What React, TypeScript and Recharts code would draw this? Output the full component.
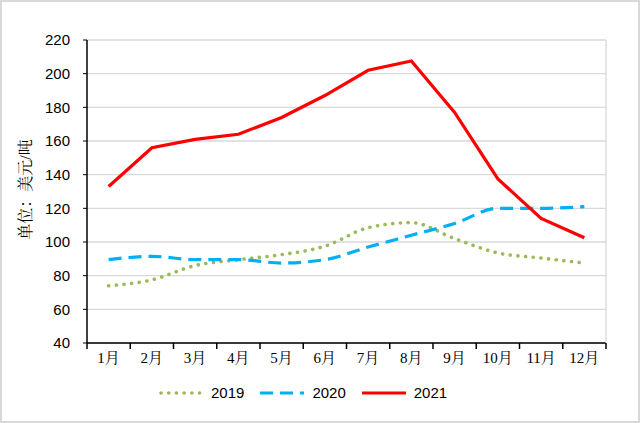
import React from 'react';
import { LineChart, Line, XAxis, YAxis, CartesianGrid, Legend } from 'recharts';

const months = ['1月', '2月', '3月', '4月', '5月', '6月', '7月', '8月', '9月', '10月', '11月', '12月'];
const s2019 = [74, 77.5, 86, 89.5, 92.5, 97.5, 108.5, 111.5, 102, 93.5, 90.5, 87.5];
const s2020 = [89.5, 91.5, 89.5, 89.5, 87.5, 89.5, 97, 104, 111, 120, 120, 121];
const s2021 = [133, 156, 161, 164, 174, 187, 202, 207.5, 177, 137.5, 114, 102.5];
const yTicks = [40, 60, 80, 100, 120, 140, 160, 180, 200, 220];

const data = months.map((m, i) => ({ month: m, y2019: s2019[i], y2020: s2020[i], y2021: s2021[i] }));

const series = [
  { key: 'y2019', name: '2019', color: '#9BBB59', dash: '0.1 7.6', cap: 'round' as const, width: 3.6, type: 'monotone' as const },
  { key: 'y2020', name: '2020', color: '#00B0F0', dash: '13 7', cap: 'butt' as const, width: 3.2, type: 'monotone' as const },
  { key: 'y2021', name: '2021', color: '#FF0000', dash: undefined, cap: 'butt' as const, width: 3.2, type: 'linear' as const },
];

const TICK_SIZE = 6;
const TICK_MARGIN = 3;

const XTick = (props: any) => {
  const { x, y, payload, index } = props;
  const half = payload && payload.offset ? payload.offset : 0;
  const axisY = y - TICK_SIZE - TICK_MARGIN;
  return (
    <g>
      <line x1={x - half} x2={x - half} y1={axisY} y2={axisY + TICK_SIZE} stroke="#000" strokeWidth={1.5} />
      {index === months.length - 1 && (
        <line x1={x + half} x2={x + half} y1={axisY} y2={axisY + TICK_SIZE} stroke="#000" strokeWidth={1.5} />
      )}
      <text x={x} y={y} dy="0.71em" textAnchor="middle" fontFamily="Liberation Serif, Noto Serif CJK SC, serif" fontSize={15} fill="#000">
        {payload.value}
      </text>
    </g>
  );
};

const LegendContent = () => (
  <div style={{ display: 'flex', alignItems: 'center', fontFamily: 'Liberation Sans, Arial, sans-serif', fontSize: 15, color: '#000' }}>
    {series.map((s) => (
      <div key={s.key} style={{ display: 'flex', alignItems: 'center', marginRight: 16 }}>
        <svg width={44} height={10}>
          <line x1={s.cap === 'round' ? 2 : 0} y1={5} x2={s.cap === 'round' ? 42 : 44} y2={5} stroke={s.color} strokeWidth={s.width} strokeDasharray={s.dash} strokeLinecap={s.cap} />
        </svg>
        <span style={{ marginLeft: 8 }}>{s.name}</span>
      </div>
    ))}
  </div>
);

const YLabel = (props: any) => {
  const { viewBox } = props;
  const cx = 25;
  const cy = viewBox.y + viewBox.height / 2 - 2;
  return (
    <text x={cx} y={cy} transform={`rotate(-90 ${cx} ${cy})`} textAnchor="middle" dominantBaseline="central" fontFamily="Liberation Serif, Noto Serif CJK SC, serif" fontSize={16} fill="#000">
      单位：美元/吨
    </text>
  );
};

export default function App() {
  return (
    <div style={{ position: 'absolute', left: 0, top: 0, width: 640, height: 423, background: '#fff' }}>
      <LineChart width={640} height={423} data={data} margin={{ top: 40, right: 0, bottom: 50, left: 0 }}>
        <CartesianGrid vertical={false} stroke="#D9D9D9" strokeWidth={1.3} />
        <XAxis dataKey="month" scale="band" height={30} axisLine={{ stroke: '#000', strokeWidth: 1.5 }} tickLine={false} interval={0} tickSize={TICK_SIZE} tickMargin={TICK_MARGIN} tick={<XTick />} />
        <YAxis domain={[40, 220]} ticks={yTicks} width={87} interval={0} tickSize={4} tickMargin={13} axisLine={{ stroke: '#000', strokeWidth: 1.5 }} tickLine={{ stroke: '#000' }} tick={{ fontFamily: 'Liberation Sans, Arial, sans-serif', fontSize: 15, fill: '#000' }} label={<YLabel />} />
        <YAxis yAxisId="r" orientation="right" width={34} tick={false} tickLine={false} axisLine={{ stroke: '#D9D9D9', strokeWidth: 1.3 }} />
        {series.map((s) => (
          <Line key={s.key} type={s.type} dataKey={s.key} name={s.name} stroke={s.color} strokeWidth={s.width} strokeDasharray={s.dash} strokeLinecap={s.cap} dot={false} activeDot={false} isAnimationActive={false} />
        ))}
        <Legend layout="horizontal" verticalAlign="middle" align="center" content={<LegendContent />} wrapperStyle={{ top: 384, left: 159, width: 400 }} />
      </LineChart>
      <div style={{ position: 'absolute', left: 0, top: 0, width: 640, height: 423, boxSizing: 'border-box', border: '2px solid #D9D9D9', pointerEvents: 'none' }} />
    </div>
  );
}
